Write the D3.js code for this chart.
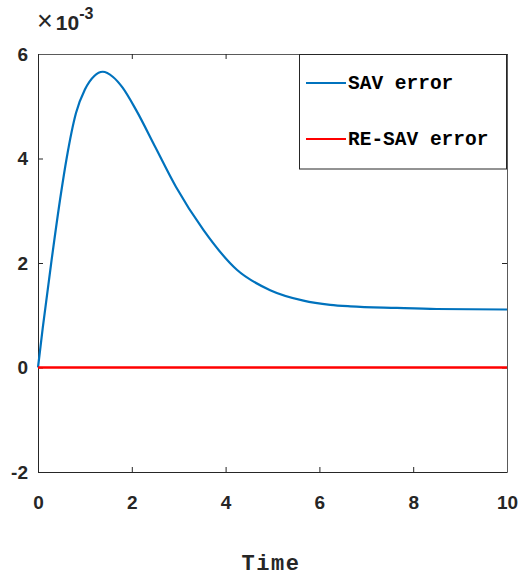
<!DOCTYPE html>
<html>
<head>
<meta charset="utf-8">
<script src="https://cdn.jsdelivr.net/npm/d3@7"></script>
<style>
html,body{margin:0;padding:0;background:#fff;}
svg{display:block;}
</style>
</head>
<body>
<svg id="chart" width="521" height="578"></svg>
<script>
// Data (values in units of 1e-3)
const savTime  = [0, 0.1, 0.28, 0.49, 0.61, 0.81, 1.0, 1.2, 1.38, 1.6, 1.8, 2.09, 2.5, 2.94, 3.53, 4.24, 4.95, 5.66, 6.23, 6.66, 7.65, 8.5, 10];
const savError = [0, 0.75, 1.99, 3.33, 4.0, 4.87, 5.32, 5.58, 5.66, 5.56, 5.36, 4.93, 4.22, 3.46, 2.63, 1.87, 1.48, 1.28, 1.20, 1.17, 1.14, 1.12, 1.11];
const reTime   = [0, 10];
const reError  = [0, 0];
const xTicks = [0, 2, 4, 6, 8, 10];
const yTicks = [-2, 0, 2, 4, 6];
const seriesNames = ["SAV error", "RE-SAV error"];
const seriesColors = ["#0072BD", "#FF0000"];

const svg = d3.select("#chart");
const L = 38, R = 507, T = 54, B = 472;
const x = d3.scaleLinear().domain([0, 10]).range([L, R]);
const y = d3.scaleLinear().domain([-2, 6]).range([B, T]);
const axisColor = "#262626";
const tickFont = "'Liberation Sans', Arial, sans-serif";
const monoFont = "'Liberation Mono', 'Courier New', monospace";

// Axes
const gx = svg.append("g").attr("transform", `translate(0,${B})`)
  .call(d3.axisBottom(x).tickValues(xTicks).tickSizeInner(-5).tickSizeOuter(0).tickPadding(24).tickFormat(d3.format("d")));
const gy = svg.append("g").attr("transform", `translate(${L},0)`)
  .call(d3.axisLeft(y).tickValues(yTicks).tickSizeInner(-5).tickSizeOuter(0).tickPadding(10).tickFormat(d => d < 0 ? "-" + Math.abs(d) : d));
const gxt = svg.append("g").attr("transform", `translate(0,${T})`)
  .call(d3.axisTop(x).tickValues(xTicks).tickSizeInner(-5).tickSizeOuter(0).tickFormat(""));
const gyr = svg.append("g").attr("transform", `translate(${R},0)`)
  .call(d3.axisRight(y).tickValues(yTicks).tickSizeInner(-5).tickSizeOuter(0).tickFormat(""));
[gx, gy, gxt, gyr].forEach(g => {
  g.selectAll("path.domain").attr("stroke", axisColor).attr("stroke-width", 1);
  g.selectAll(".tick line").attr("stroke", axisColor).attr("stroke-width", 1);
  g.selectAll(".tick text").attr("fill", axisColor)
    .style("font-family", tickFont).style("font-weight", "bold").style("font-size", "19px");
});
gyr.select("path.domain").attr("stroke", "#5a5a5a");
gxt.select("path.domain").attr("stroke", "#5a5a5a");

// Exponent label
const ex = svg.append("text").attr("x", 37).attr("y", 30).attr("fill", axisColor)
  .style("font-family", tickFont).style("font-size", "21px");
ex.append("tspan").text("\u00D7").style("font-size","27px");
ex.append("tspan").text("10").attr("dx", 3).style("font-weight", "bold");
ex.append("tspan").text("-3").attr("dy", -11).style("font-weight", "bold").style("font-size", "16px");

// Lines
const line = d3.line().x(d => x(d[0])).y(d => y(d[1])).curve(d3.curveMonotoneX);
svg.append("path").datum(d3.zip(savTime, savError))
  .attr("fill", "none").attr("stroke", seriesColors[0]).attr("stroke-width", 2.2).attr("d", line);
svg.append("path").datum(d3.zip(reTime, reError))
  .attr("fill", "none").attr("stroke", seriesColors[1]).attr("stroke-width", 2.5).attr("d", line);

// X label
svg.append("text").attr("x", 271).attr("y", 570).attr("text-anchor", "middle")
  .attr("fill", axisColor).style("font-family", monoFont).style("font-weight", "bold").style("font-size", "22px")
  .style("letter-spacing", "1.5px")
  .text("Time");

// Legend
const lg = svg.append("g");
lg.append("rect").attr("x", 299.5).attr("y", 54.5).attr("width", 207).attr("height", 114.5)
  .attr("fill", "#fff").attr("stroke", axisColor).attr("stroke-width", 1);
const legY = [83, 139];
seriesNames.forEach((name, i) => {
  lg.append("line").attr("x1", 306).attr("x2", 346).attr("y1", legY[i]).attr("y2", legY[i])
    .attr("stroke", seriesColors[i]).attr("stroke-width", 2.2);
  lg.append("text").attr("x", 348).attr("y", legY[i] + 6).attr("fill", "#000")
    .style("font-family", monoFont).style("font-weight", "bold").style("font-size", "19.5px").text(name);
});
</script>
</body>
</html>
